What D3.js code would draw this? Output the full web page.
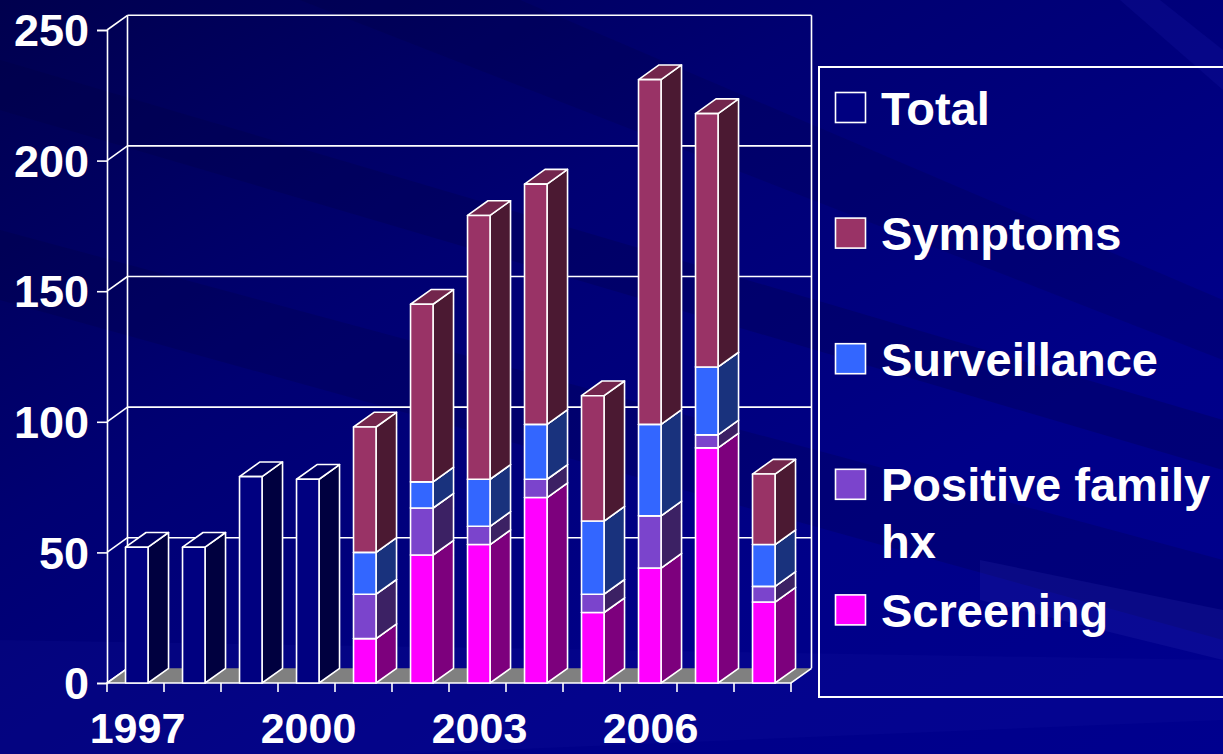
<!DOCTYPE html>
<html>
<head>
<meta charset="utf-8">
<script src="https://cdn.jsdelivr.net/npm/d3@7"></script>
<style>
  html, body { margin: 0; padding: 0; background: #000080; overflow: hidden; }
  svg { display: block; }
</style>
</head>
<body>
<svg id="chart" width="1223" height="754"></svg>
<script>
// ---- data ----
const years = ["1997","1998","1999","2000","2001","2002","2003","2004","2005","2006","2007","2008"];
const yearLabels = ["1997","2000","2003","2006"];
const total        = [52, 52, 79, 78, 0, 0, 0, 0, 0, 0, 0, 0];
const symptoms     = [0, 0, 0, 0, 48, 68, 101, 92, 48, 132, 97, 27];
const surveillance = [0, 0, 0, 0, 16, 10, 18, 21, 28, 35, 26, 16];
const familyHx     = [0, 0, 0, 0, 17, 18, 7, 7, 7, 20, 5, 6];
const screening    = [0, 0, 0, 0, 17, 49, 53, 71, 27, 44, 90, 31];
const yTicks = [0, 50, 100, 150, 200, 250];

// stacking order, bottom to top
const stackKeys = ["screening", "familyHx", "surveillance", "symptoms", "total"];
const colors = {
  total: "#000080",
  symptoms: "#993366",
  surveillance: "#3366FF",
  familyHx: "#7B44CC",
  screening: "#FF00FF"
};
// legend order, top to bottom
const legendItems = [
  { key: "total", lines: ["Total"] },
  { key: "symptoms", lines: ["Symptoms"] },
  { key: "surveillance", lines: ["Surveillance"] },
  { key: "familyHx", lines: ["Positive family", "hx"] },
  { key: "screening", lines: ["Screening"] }
];

const rows = years.map((yr, i) => ({
  year: yr,
  total: total[i],
  symptoms: symptoms[i],
  surveillance: surveillance[i],
  familyHx: familyHx[i],
  screening: screening[i]
}));

// ---- layout ----
const svg = d3.select("#chart");
const W = 1223, H = 754;
const plot = { left: 107, right: 791, top: 30, bottom: 683 };
const depth = { dx: 20.5, dy: -14.7 };
const FONT = "'Liberation Sans', Arial, Helvetica, sans-serif";

const x = d3.scaleBand().domain(years).range([plot.left, plot.right]).padding(0);
const y = d3.scaleLinear().domain([0, 250]).range([plot.bottom, plot.top]);

// ---- background ----
const defs = svg.append("defs");
const bg = defs.append("linearGradient").attr("id", "bgGrad")
  .attr("x1", 0).attr("y1", 0).attr("x2", 1).attr("y2", 1);
bg.append("stop").attr("offset", 0).attr("stop-color", "#00004e");
bg.append("stop").attr("offset", 0.35).attr("stop-color", "#000072");
bg.append("stop").attr("offset", 0.7).attr("stop-color", "#000088");
bg.append("stop").attr("offset", 1).attr("stop-color", "#00008e");
svg.append("rect").attr("width", W).attr("height", H).attr("fill", "url(#bgGrad)");

// soft diagonal streaks
const streaks = [
  { pts: [[0, 60], [0, 110], [1223, 470], [1223, 420]], fill: "#000040", op: 0.25 },
  { pts: [[0, 230], [0, 300], [1223, 640], [1223, 560]], fill: "#000030", op: 0.18 },
  { pts: [[0, 640], [0, 754], [400, 754], [1223, 720], [1223, 660]], fill: "#2020b0", op: 0.12 },
  { pts: [[980, 560], [1223, 610], [1223, 660], [980, 600]], fill: "#4040c0", op: 0.16 },
  { pts: [[1120, 0], [1160, 0], [1223, 50], [1223, 90]], fill: "#2020b0", op: 0.2 },
  { pts: [[300, 0], [520, 0], [1223, 300], [1223, 360]], fill: "#000030", op: 0.15 }
];
svg.append("g").selectAll("polygon").data(streaks).join("polygon")
  .attr("points", d => d.pts.map(p => p.join(",")).join(" "))
  .attr("fill", d => d.fill).attr("opacity", d => d.op);

const white = "#ffffff";
const g = svg.append("g");

// ---- walls & gridlines ----
// back wall gridlines
g.append("g").selectAll("line").data(yTicks.filter(t => t > 0)).join("line")
  .attr("x1", plot.left + depth.dx).attr("x2", plot.right + depth.dx)
  .attr("y1", d => y(d) + depth.dy).attr("y2", d => y(d) + depth.dy)
  .attr("stroke", white).attr("stroke-width", 1.6);
// side wall diagonals
g.append("g").selectAll("line").data(yTicks).join("line")
  .attr("x1", plot.left).attr("y1", d => y(d))
  .attr("x2", plot.left + depth.dx).attr("y2", d => y(d) + depth.dy)
  .attr("stroke", white).attr("stroke-width", 1.6);
// back wall vertical edges
[plot.left + depth.dx, plot.right + depth.dx].forEach(xx => {
  g.append("line")
    .attr("x1", xx).attr("x2", xx)
    .attr("y1", y(0) + depth.dy).attr("y2", y(250) + depth.dy)
    .attr("stroke", white).attr("stroke-width", 1.6);
});

// floor
const floorPts = [
  [plot.left, y(0)], [plot.right, y(0)],
  [plot.right + depth.dx, y(0) + depth.dy], [plot.left + depth.dx, y(0) + depth.dy]
];
g.append("polygon").attr("points", floorPts.map(p => p.join(",")).join(" "))
  .attr("fill", "#808080");
g.append("polyline")
  .attr("points", [[plot.left + depth.dx, y(0) + depth.dy], [plot.left, y(0)], [plot.right, y(0)], [plot.right + depth.dx, y(0) + depth.dy]].map(p => p.join(",")).join(" "))
  .attr("fill", "none").attr("stroke", white).attr("stroke-width", 1.6);

// ---- y axis (front) ----
const yAxis = d3.axisLeft(y).tickValues(yTicks).tickSize(10).tickPadding(8).tickFormat(d3.format("d"));
const yAxisG = svg.append("g").attr("transform", `translate(${plot.left},0)`).call(yAxis);
yAxisG.select(".domain").attr("stroke", white).attr("stroke-width", 1.6);
yAxisG.selectAll(".tick line").attr("stroke", white).attr("stroke-width", 1.6);
yAxisG.selectAll(".tick text")
  .attr("fill", white).attr("font-family", FONT).attr("font-weight", "bold")
  .attr("font-size", 45).attr("dy", "0.35em");

// ---- x axis ticks at category boundaries ----
const boundaries = years.map(yr => x(yr)).concat([x(years[years.length - 1]) + x.bandwidth()]);
svg.append("g").selectAll("line").data(boundaries).join("line")
  .attr("x1", d => d).attr("x2", d => d)
  .attr("y1", y(0)).attr("y2", y(0) + 9)
  .attr("stroke", white).attr("stroke-width", 1.6);
svg.append("g").selectAll("text").data(yearLabels).join("text")
  .attr("x", d => x(d) + x.bandwidth() / 2 + 2)
  .attr("y", 743)
  .attr("text-anchor", "middle")
  .attr("fill", white).attr("font-family", FONT).attr("font-weight", "bold")
  .attr("font-size", 43)
  .text(d => d);

// ---- 3D stacked columns ----
const stacked = d3.stack().keys(stackKeys)(rows);
const segs = [];
years.forEach((yr, i) => {
  stacked.forEach(layer => {
    const [v0, v1] = layer[i];
    if (v1 - v0 > 0) segs.push({ year: yr, key: layer.key, v0, v1 });
  });
});
const barOffset = x.bandwidth() * 0.325;
const barW = x.bandwidth() * 0.395;
const bars = svg.append("g");
const pts = arr => arr.map(p => p.join(",")).join(" ");
segs.forEach(s => {
  const x0 = x(s.year) + barOffset, x1 = x0 + barW;
  const yb = y(s.v0), yt = y(s.v1);
  const base = d3.color(colors[s.key]);
  const side = base.darker(2).formatHex();
  const top = base.darker(0.8).formatHex();
  const seg = bars.append("g")
    .attr("stroke", white).attr("stroke-width", 1.6).attr("stroke-linejoin", "round");
  seg.append("polygon")
    .attr("points", pts([[x1, yb], [x1 + depth.dx, yb + depth.dy], [x1 + depth.dx, yt + depth.dy], [x1, yt]]))
    .attr("fill", side);
  seg.append("polygon")
    .attr("points", pts([[x0, yt], [x1, yt], [x1 + depth.dx, yt + depth.dy], [x0 + depth.dx, yt + depth.dy]]))
    .attr("fill", top);
  seg.append("rect")
    .attr("x", x0).attr("y", yt).attr("width", barW).attr("height", yb - yt)
    .attr("fill", base.formatHex());
});

// ---- legend ----
const legend = svg.append("g");
legend.append("rect")
  .attr("x", 819).attr("y", 67).attr("width", 420).attr("height", 630)
  .attr("fill", "none").attr("stroke", white).attr("stroke-width", 2);
const rowStep = 125.6;
legendItems.forEach((item, i) => {
  const cy = 107.5 + i * rowStep;
  legend.append("rect")
    .attr("x", 835.5).attr("y", cy - 15).attr("width", 30).attr("height", 30)
    .attr("fill", colors[item.key]).attr("stroke", white).attr("stroke-width", 1.6);
  item.lines.forEach((line, j) => {
    legend.append("text")
      .attr("x", 881).attr("y", cy + 17 + j * 57)
      .attr("fill", white).attr("font-family", FONT).attr("font-weight", "bold")
      .attr("font-size", 47)
      .text(line);
  });
});
</script>
</body>
</html>
